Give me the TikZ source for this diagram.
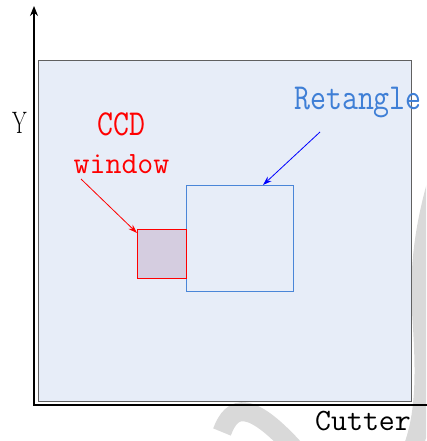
\documentclass[tikz,border=0pt]{standalone}
\usetikzlibrary{arrows.meta}
\definecolor{bgfill}{HTML}{E7EDF8}
\definecolor{ccdfill}{HTML}{D5CDE0}
\definecolor{rectblue}{HTML}{4A86D8}
\definecolor{textblue}{HTML}{3F7FD6}
\definecolor{wmgray}{HTML}{D9D9D9}
\definecolor{areaborder}{HTML}{606060}
\begin{document}
\begin{tikzpicture}[x=1pt,y=-1pt,
  wmark/.style={wmgray,line width=19pt},
  areabox/.style={draw=areaborder,line width=0.9pt,fill=bgfill,inner sep=0pt,anchor=north west},
  ccdbox/.style={draw=red,line width=1.2pt,fill=ccdfill,inner sep=0pt,anchor=north west},
  retbox/.style={draw=rectblue,line width=1.2pt,inner sep=0pt,anchor=north west},
  axisline/.style={black,line width=1.3pt},
  monolabel/.style={inner sep=0pt,anchor=base,font=\fontsize{31}{31}\selectfont\ttfamily},
  ptr/.style={line width=0.8pt,-{Stealth[length=9pt,width=6pt]}}
]
\useasboundingbox (0,0) rectangle (426,441);
\begin{scope}
\clip (0,0) rectangle (426,441);
% watermark strokes
\draw[wmark] (450,140) .. controls (425,215) and (418,260) .. (422,320) .. controls (426,380) and (425,420) .. (410,455);
\draw[wmark] (222,432) .. controls (232,405) and (250,398) .. (300,455);
\end{scope}
% work area
\node[areabox,minimum width=373pt,minimum height=341pt] (area) at (38,60) {};
% axes
\coordinate (O) at (34,405);
\coordinate (ytop) at (34,6);
\coordinate (xend) at (427,405);
\draw[axisline,{Stealth[length=10pt,width=8pt]}-] (ytop) -- (O) -- (xend);
\node[inner sep=0pt,anchor=base,font=\fontsize{31}{31}\selectfont] (ylab) at (19.5,133) {\scalebox{0.68}[1]{Y}};
\node[monolabel] (xlab) at (363,430) {Cutter};
% rectangles
\node[retbox,minimum width=107pt,minimum height=106pt] (ret) at (186,185) {};
\node[ccdbox,minimum width=49pt,minimum height=49pt] (ccd) at (137,229) {};
% labels
\node[monolabel,text=textblue] (retlab) at (358,110) {\scalebox{1}[1.18]{Retangle}};
\node[monolabel,text=red] (ccdlab) at (121.5,135) {\scalebox{1}[1.18]{CCD}};
\node[monolabel,text=red] (winlab) at (121.5,173) {window};
% pointers
\coordinate (retfrom) at (320,132);
\coordinate (retto) at (263,185);
\coordinate (ccdfrom) at (81,179);
\coordinate (ccdto) at (137,233);
\draw[ptr,blue] (retfrom) -- (retto);
\draw[ptr,red] (ccdfrom) -- (ccdto);
\end{tikzpicture}
\end{document}
